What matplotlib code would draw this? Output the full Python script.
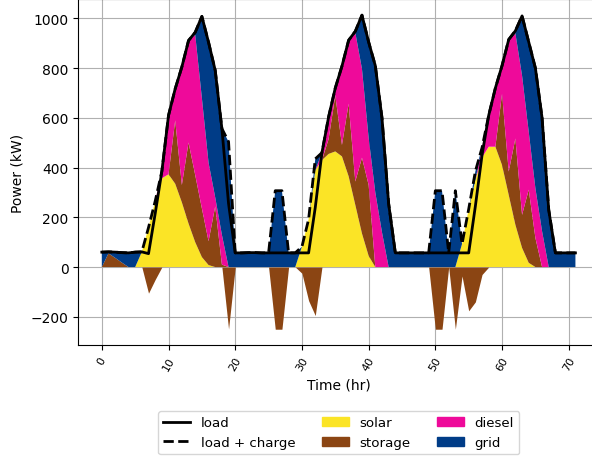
import numpy as np
import matplotlib
matplotlib.use("Agg")
import matplotlib.pyplot as plt
from matplotlib.lines import Line2D
from matplotlib.patches import Patch

# hourly dispatch over three days (kW)
hours = np.arange(72)

load = [
    60, 61, 60, 58, 57, 60, 61, 54, 215, 385, 610, 717, 805, 911, 944, 1008, 904, 791, 557, 255, 57, 57, 58, 58,
    57, 57, 57, 57, 57, 57, 57, 57, 240, 460, 604, 720, 808, 912, 948, 1013, 905, 810, 600, 255, 57, 57, 57, 57,
    57, 57, 57, 57, 57, 57, 57, 57, 245, 450, 610, 720, 810, 915, 950, 1010, 905, 800, 600, 230, 57, 57, 57, 57,
]
solar = [
    0, 0, 0, 0, 0, 0, 61, 159, 265, 357, 373, 335, 260, 175, 100, 40, 8, 0, 0, 0, 0, 0, 0, 0,
    0, 0, 0, 0, 0, 0, 82, 192, 390, 430, 455, 465, 445, 365, 250, 135, 45, 0, 0, 0, 0, 0, 0, 0,
    0, 0, 0, 0, 0, 0, 93, 233, 350, 440, 484, 484, 410, 290, 170, 77, 17, 0, 0, 0, 0, 0, 0, 0,
]
# positive = discharge, negative = charge
storage = [
    0, 55, 37, 18, 0, 0, 0, -105, -50, 0, 0, 255, 70, 326, 270, 196, 96, 244, 10, -249, 0, 0, 0, 0,
    0, 0, -250, -250, 0, 0, -25, -135, -195, 0, 60, 225, 46, 292, 94, 305, 285, 0, 0, 0, 0, 0, 0, 0,
    0, 0, -250, -250, 0, -250, -36, -176, -140, -30, 0, 0, 287, 94, 347, 133, 294, 117, 0, 0, 0, 0, 0, 0,
]
diesel = [
    0, 0, 0, 0, 0, 0, 0, 0, 0, 28, 237, 127, 475, 410, 564, 444, 316, 36, 120, 0, 0, 0, 0, 0,
    0, 0, 0, 0, 0, 0, 0, 0, 0, 30, 89, 30, 317, 255, 599, 357, 190, 300, 140, 0, 0, 0, 0, 0,
    0, 0, 0, 0, 0, 0, 0, 0, 0, 40, 126, 236, 113, 531, 423, 560, 233, 200, 144, 0, 0, 0, 0, 0,
]
grid = [
    60, 6, 23, 40, 57, 60, 0, 0, 0, 0, 0, 0, 0, 0, 10, 328, 484, 511, 427, 504, 57, 57, 58, 58,
    57, 57, 307, 307, 57, 57, 0, 0, 45, 0, 0, 0, 0, 0, 5, 216, 385, 510, 460, 255, 57, 57, 57, 57,
    57, 57, 307, 307, 57, 307, 0, 0, 35, 0, 0, 0, 0, 0, 10, 240, 361, 483, 456, 230, 57, 57, 57, 57,
]

COLORS = {
    "solar": "#fbe426",
    "storage": "#8b4513",
    "diesel": "#ee0a9a",
    "grid": "#003c87",
}


def main():
    load_a = np.array(load, dtype=float)
    storage_a = np.array(storage, dtype=float)
    charge = -np.minimum(storage_a, 0)
    discharge = np.maximum(storage_a, 0)

    fig = plt.figure(figsize=(5.92, 4.6), dpi=100)
    ax = fig.add_axes([0.132, 0.248, 0.880, 0.751])
    ax.set_axisbelow(True)
    ax.grid(True, color="#b0b0b0", linewidth=0.8)

    ax.stackplot(hours, solar, discharge, diesel, grid,
                 colors=[COLORS["solar"], COLORS["storage"],
                         COLORS["diesel"], COLORS["grid"]])
    ax.fill_between(hours, -charge, 0, color=COLORS["storage"], linewidth=0)

    ax.plot(hours, load_a + charge, "k--", linewidth=2)
    ax.plot(hours, load_a, "k-", linewidth=2)

    ax.set_xlabel("Time (hr)")
    ax.set_ylabel("Power (kW)")
    ax.set_xticks(np.arange(0, 71, 10))
    ax.tick_params(axis="x", labelrotation=60, labelsize=8)

    handles = [
        Line2D([], [], color="k", linewidth=2),
        Line2D([], [], color="k", linewidth=2, linestyle="--"),
        Patch(color=COLORS["solar"]),
        Patch(color=COLORS["storage"]),
        Patch(color=COLORS["diesel"]),
        Patch(color=COLORS["grid"]),
    ]
    labels = ["load", "load + charge", "solar", "storage", "diesel", "grid"]
    ax.legend(handles, labels, loc="upper center", bbox_to_anchor=(0.5, -0.172),
              ncol=3, fontsize=9.6)

    fig.savefig("out.png", dpi=100)


if __name__ == "__main__":
    main()
